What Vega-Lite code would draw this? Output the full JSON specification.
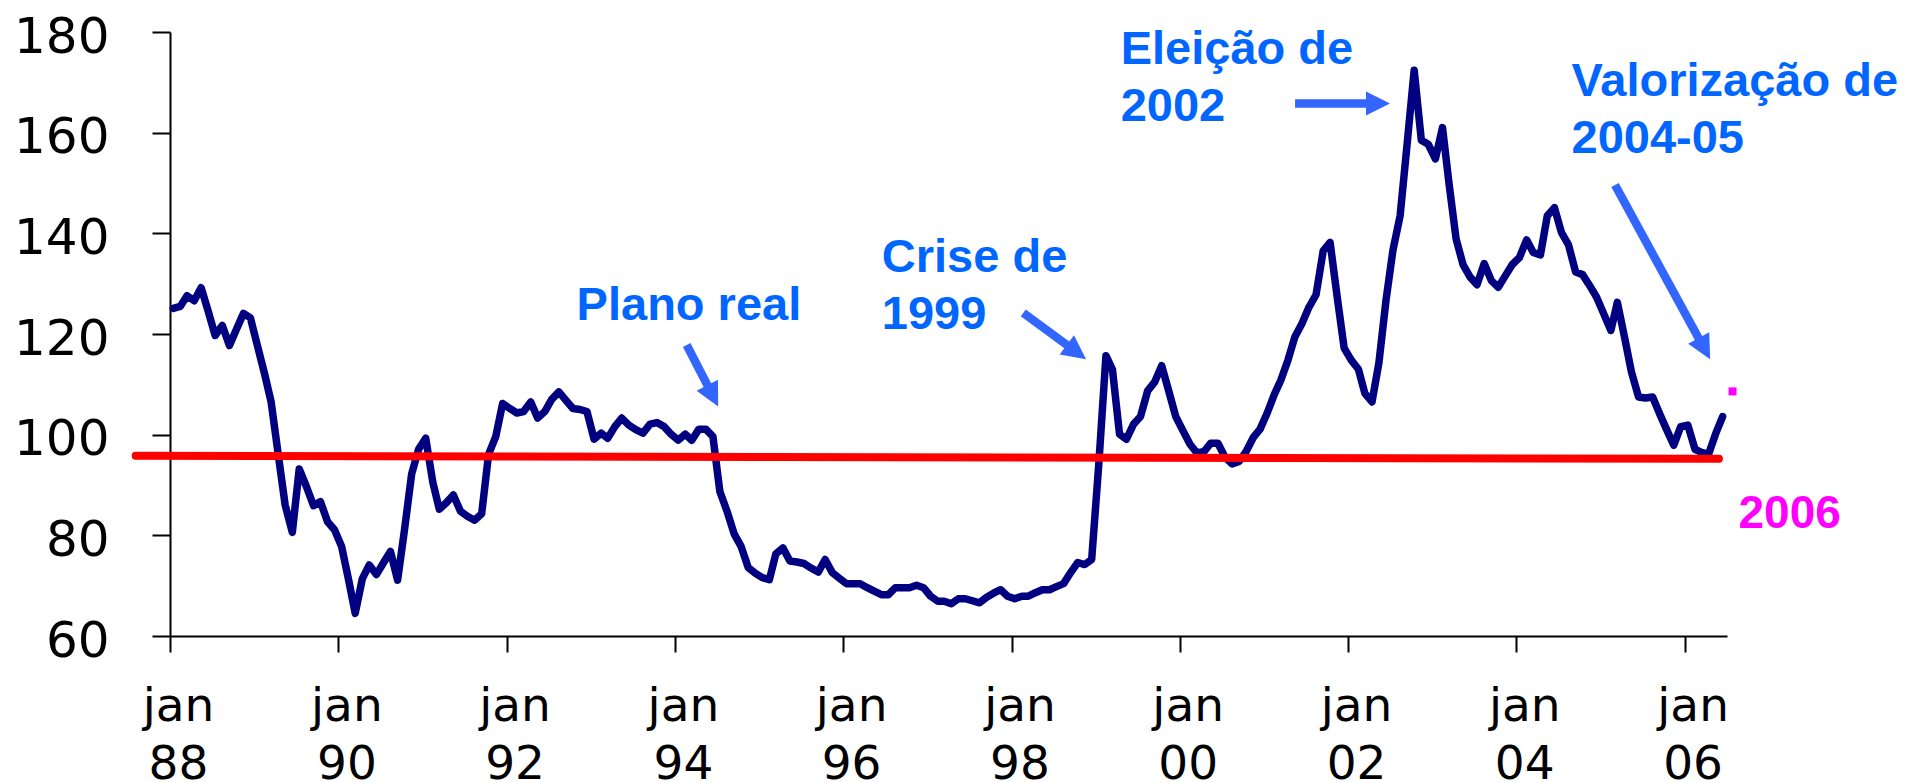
{
  "$schema": "https://vega.github.io/schema/vega-lite/v6.json",
  "width": 1557,
  "height": 604,
  "autosize": "none",
  "padding": {"left": 170, "top": 32, "right": 183, "bottom": 146},
  "background": "white",
  "config": {"view": {"stroke": null}},
  "datasets": {
    "series": [
      {"date":"1988-01-15","rer":125.1},{"date":"1988-02-15","rer":125.5},{"date":"1988-03-15","rer":127.6},{"date":"1988-04-15","rer":126.6},{"date":"1988-05-15","rer":129.2},{"date":"1988-06-15","rer":124.5},{"date":"1988-07-15","rer":119.7},{"date":"1988-08-15","rer":121.7},{"date":"1988-09-15","rer":117.7},{"date":"1988-10-15","rer":120.9},{"date":"1988-11-15","rer":124.1},{"date":"1988-12-15","rer":123.2},
      {"date":"1989-01-15","rer":117.6},{"date":"1989-02-15","rer":112.0},{"date":"1989-03-15","rer":106.5},{"date":"1989-04-15","rer":96.0},{"date":"1989-05-15","rer":86.0},{"date":"1989-06-15","rer":80.6},{"date":"1989-07-15","rer":93.2},{"date":"1989-08-15","rer":89.7},{"date":"1989-09-15","rer":85.9},{"date":"1989-10-15","rer":86.7},{"date":"1989-11-15","rer":82.7},{"date":"1989-12-15","rer":81.1},
      {"date":"1990-01-15","rer":77.8},{"date":"1990-02-15","rer":71.0},{"date":"1990-03-15","rer":64.5},{"date":"1990-04-15","rer":71.4},{"date":"1990-05-15","rer":74.1},{"date":"1990-06-15","rer":72.2},{"date":"1990-07-15","rer":74.5},{"date":"1990-08-15","rer":76.8},{"date":"1990-09-15","rer":71.1},{"date":"1990-10-15","rer":81.1},{"date":"1990-11-15","rer":92.2},{"date":"1990-12-15","rer":97.1},
      {"date":"1991-01-15","rer":99.3},{"date":"1991-02-15","rer":90.5},{"date":"1991-03-15","rer":85.2},{"date":"1991-04-15","rer":86.5},{"date":"1991-05-15","rer":88.0},{"date":"1991-06-15","rer":84.8},{"date":"1991-07-15","rer":83.8},{"date":"1991-08-15","rer":83.0},{"date":"1991-09-15","rer":84.3},{"date":"1991-10-15","rer":96.1},{"date":"1991-11-15","rer":99.6},{"date":"1991-12-15","rer":106.2},
      {"date":"1992-01-15","rer":105.2},{"date":"1992-02-15","rer":104.3},{"date":"1992-03-15","rer":104.6},{"date":"1992-04-15","rer":106.5},{"date":"1992-05-15","rer":103.3},{"date":"1992-06-15","rer":104.6},{"date":"1992-07-15","rer":107.0},{"date":"1992-08-15","rer":108.5},{"date":"1992-09-15","rer":106.8},{"date":"1992-10-15","rer":105.2},{"date":"1992-11-15","rer":105.0},{"date":"1992-12-15","rer":104.6},
      {"date":"1993-01-15","rer":99.1},{"date":"1993-02-15","rer":100.3},{"date":"1993-03-15","rer":99.3},{"date":"1993-04-15","rer":101.6},{"date":"1993-05-15","rer":103.3},{"date":"1993-06-15","rer":101.9},{"date":"1993-07-15","rer":101.0},{"date":"1993-08-15","rer":100.3},{"date":"1993-09-15","rer":102.1},{"date":"1993-10-15","rer":102.4},{"date":"1993-11-15","rer":101.6},{"date":"1993-12-15","rer":100.1},
      {"date":"1994-01-15","rer":98.9},{"date":"1994-02-15","rer":100.1},{"date":"1994-03-15","rer":98.9},{"date":"1994-04-15","rer":101.1},{"date":"1994-05-15","rer":101.1},{"date":"1994-06-15","rer":99.6},{"date":"1994-07-15","rer":88.7},{"date":"1994-08-15","rer":84.8},{"date":"1994-09-15","rer":80.3},{"date":"1994-10-15","rer":77.8},{"date":"1994-11-15","rer":73.6},{"date":"1994-12-15","rer":72.5},
      {"date":"1995-01-15","rer":71.6},{"date":"1995-02-15","rer":71.2},{"date":"1995-03-15","rer":76.3},{"date":"1995-04-15","rer":77.5},{"date":"1995-05-15","rer":74.9},{"date":"1995-06-15","rer":74.7},{"date":"1995-07-15","rer":74.4},{"date":"1995-08-15","rer":73.5},{"date":"1995-09-15","rer":72.7},{"date":"1995-10-15","rer":75.2},{"date":"1995-11-15","rer":72.6},{"date":"1995-12-15","rer":71.5},
      {"date":"1996-01-15","rer":70.4},{"date":"1996-02-15","rer":70.4},{"date":"1996-03-15","rer":70.4},{"date":"1996-04-15","rer":69.6},{"date":"1996-05-15","rer":68.9},{"date":"1996-06-15","rer":68.2},{"date":"1996-07-15","rer":68.2},{"date":"1996-08-15","rer":69.6},{"date":"1996-09-15","rer":69.6},{"date":"1996-10-15","rer":69.6},{"date":"1996-11-15","rer":70.1},{"date":"1996-12-15","rer":69.6},
      {"date":"1997-01-15","rer":67.9},{"date":"1997-02-15","rer":66.9},{"date":"1997-03-15","rer":66.9},{"date":"1997-04-15","rer":66.4},{"date":"1997-05-15","rer":67.4},{"date":"1997-06-15","rer":67.4},{"date":"1997-07-15","rer":67.0},{"date":"1997-08-15","rer":66.6},{"date":"1997-09-15","rer":67.7},{"date":"1997-10-15","rer":68.5},{"date":"1997-11-15","rer":69.2},{"date":"1997-12-15","rer":67.9},
      {"date":"1998-01-15","rer":67.4},{"date":"1998-02-15","rer":67.9},{"date":"1998-03-15","rer":67.9},{"date":"1998-04-15","rer":68.6},{"date":"1998-05-15","rer":69.2},{"date":"1998-06-15","rer":69.2},{"date":"1998-07-15","rer":69.8},{"date":"1998-08-15","rer":70.4},{"date":"1998-09-15","rer":72.6},{"date":"1998-10-15","rer":74.6},{"date":"1998-11-15","rer":74.2},{"date":"1998-12-15","rer":75.2},
      {"date":"1999-01-15","rer":94.2},{"date":"1999-02-15","rer":115.7},{"date":"1999-03-15","rer":113.0},{"date":"1999-04-15","rer":100.1},{"date":"1999-05-15","rer":99.1},{"date":"1999-06-15","rer":102.1},{"date":"1999-07-15","rer":103.6},{"date":"1999-08-15","rer":108.7},{"date":"1999-09-15","rer":110.5},{"date":"1999-10-15","rer":113.7},{"date":"1999-11-15","rer":108.6},{"date":"1999-12-15","rer":103.6},
      {"date":"2000-01-15","rer":100.8},{"date":"2000-02-15","rer":98.1},{"date":"2000-03-15","rer":96.4},{"date":"2000-04-15","rer":96.6},{"date":"2000-05-15","rer":98.3},{"date":"2000-06-15","rer":98.3},{"date":"2000-07-15","rer":95.6},{"date":"2000-08-15","rer":94.2},{"date":"2000-09-15","rer":94.7},{"date":"2000-10-15","rer":96.6},{"date":"2000-11-15","rer":99.4},{"date":"2000-12-15","rer":101.1},
      {"date":"2001-01-15","rer":104.3},{"date":"2001-02-15","rer":108.0},{"date":"2001-03-15","rer":110.8},{"date":"2001-04-15","rer":114.8},{"date":"2001-05-15","rer":119.4},{"date":"2001-06-15","rer":122.1},{"date":"2001-07-15","rer":125.3},{"date":"2001-08-15","rer":127.8},{"date":"2001-09-15","rer":136.5},{"date":"2001-10-15","rer":138.2},{"date":"2001-11-15","rer":127.3},{"date":"2001-12-15","rer":117.2},
      {"date":"2002-01-15","rer":114.8},{"date":"2002-02-15","rer":113.0},{"date":"2002-03-15","rer":108.2},{"date":"2002-04-15","rer":106.5},{"date":"2002-05-15","rer":114.3},{"date":"2002-06-15","rer":126.8},{"date":"2002-07-15","rer":136.7},{"date":"2002-08-15","rer":143.5},{"date":"2002-09-15","rer":158.0},{"date":"2002-10-15","rer":172.4},{"date":"2002-11-15","rer":158.5},{"date":"2002-12-15","rer":157.7},
      {"date":"2003-01-15","rer":154.8},{"date":"2003-02-15","rer":161.0},{"date":"2003-03-15","rer":150.0},{"date":"2003-04-15","rer":138.9},{"date":"2003-05-15","rer":133.8},{"date":"2003-06-15","rer":131.3},{"date":"2003-07-15","rer":129.8},{"date":"2003-08-15","rer":134.0},{"date":"2003-09-15","rer":130.6},{"date":"2003-10-15","rer":129.3},{"date":"2003-11-15","rer":131.6},{"date":"2003-12-15","rer":133.8},
      {"date":"2004-01-15","rer":135.2},{"date":"2004-02-15","rer":138.7},{"date":"2004-03-15","rer":136.2},{"date":"2004-04-15","rer":135.7},{"date":"2004-05-15","rer":143.5},{"date":"2004-06-15","rer":145.1},{"date":"2004-07-15","rer":140.2},{"date":"2004-08-15","rer":137.7},{"date":"2004-09-15","rer":132.3},{"date":"2004-10-15","rer":131.8},{"date":"2004-11-15","rer":129.6},{"date":"2004-12-15","rer":127.3},
      {"date":"2005-01-15","rer":124.0},{"date":"2005-02-15","rer":120.7},{"date":"2005-03-15","rer":126.3},{"date":"2005-04-15","rer":119.4},{"date":"2005-05-15","rer":112.5},{"date":"2005-06-15","rer":107.5},{"date":"2005-07-15","rer":107.3},{"date":"2005-08-15","rer":107.5},{"date":"2005-09-15","rer":104.1},{"date":"2005-10-15","rer":101.0},{"date":"2005-11-15","rer":97.9},{"date":"2005-12-15","rer":101.6},
      {"date":"2006-01-15","rer":101.9},{"date":"2006-02-15","rer":97.1},{"date":"2006-03-15","rer":96.5},{"date":"2006-04-15","rer":96.1},{"date":"2006-05-15","rer":100.1},{"date":"2006-06-15","rer":103.6}
    ],
    "average": [
      {"date":"1987-08-05","avg":95.8},
      {"date":"2006-05-30","avg":95.2}
    ],
    "arrows": [
      {"name":"plano","x1":"1994-02-21","y1":117.8,"x2":"1994-06-07","y2":108.4,"hx":"1994-06-14","hy":107.7},
      {"name":"crise","x1":"1998-02-21","y1":124.2,"x2":"1998-09-26","y2":116.9,"hx":"1998-10-10","hy":116.4},
      {"name":"eleicao","x1":"2001-05-16","y1":165.8,"x2":"2002-04-24","y2":165.8,"hx":"2002-05-11","hy":165.8},
      {"name":"valoriz","x1":"2005-03-05","y1":149.6,"x2":"2006-03-19","y2":117.8,"hx":"2006-03-28","hy":117.1}
    ],
    "notes": [
      {"label":"Plano real","date":"1992-10-31","value":122.8},
      {"label":"Crise de\n1999","date":"1996-06-17","value":132.3},
      {"label":"Eleição de\n2002","date":"1999-04-20","value":173.6},
      {"label":"Valorização de\n2004-05","date":"2004-08-28","value":167.3}
    ],
    "latest": [
      {"label":"2006","date":"2006-08-23","value":81.5,"pdate":"2006-07-28","pvalue":108.6}
    ]
  },
  "layer": [
    {
      "data": {"name": "series"},
      "mark": {"type": "line", "color": "#000080", "strokeWidth": 7.5, "strokeJoin": "round", "strokeCap": "round"},
      "encoding": {
        "x": {
          "field": "date", "type": "temporal",
          "scale": {"type": "utc", "domain": [{"year": 1988, "month": 1, "date": 1, "utc": true}, {"year": 2006, "month": 7, "date": 4, "utc": true}]},
          "axis": {
            "values": [
              {"year": 1988, "month": 1, "date": 1, "utc": true},
              {"year": 1990, "month": 1, "date": 1, "utc": true},
              {"year": 1992, "month": 1, "date": 1, "utc": true},
              {"year": 1994, "month": 1, "date": 1, "utc": true},
              {"year": 1996, "month": 1, "date": 1, "utc": true},
              {"year": 1998, "month": 1, "date": 1, "utc": true},
              {"year": 2000, "month": 1, "date": 1, "utc": true},
              {"year": 2002, "month": 1, "date": 1, "utc": true},
              {"year": 2004, "month": 1, "date": 1, "utc": true},
              {"year": 2006, "month": 1, "date": 1, "utc": true}
            ],
            "labelExpr": "['jan', utcFormat(datum.value, '%y')]",
            "title": null, "grid": false,
            "labelFont": "DejaVu Sans", "labelFontSize": 47, "labelColor": "#000000",
            "labelBaseline": "top", "labelLineHeight": 58, "labelPadding": 31, "labelOffset": 8,
            "labelAlign": "center", "labelAngle": 0, "labelFlush": false, "labelOverlap": false, "labelBound": false,
            "tickSize": 16, "tickWidth": 2, "tickColor": "#000000",
            "domainColor": "#000000", "domainWidth": 2
          }
        },
        "y": {
          "field": "rer", "type": "quantitative",
          "scale": {"domain": [60, 180], "nice": false, "zero": false},
          "axis": {
            "values": [60, 80, 100, 120, 140, 160, 180],
            "title": null, "grid": false,
            "labelFont": "DejaVu Sans", "labelFontSize": 50, "labelColor": "#000000",
            "labelPadding": 43, "labelOffset": 5, "labelFlush": false, "labelOverlap": false, "labelBound": false,
            "tickSize": 18, "tickWidth": 2, "tickColor": "#000000",
            "domainColor": "#000000", "domainWidth": 2
          }
        }
      }
    },
    {
      "data": {"name": "average"},
      "mark": {"type": "line", "color": "#FF0000", "strokeWidth": 8, "strokeCap": "round"},
      "encoding": {
        "x": {"field": "date", "type": "temporal", "axis": {"title": null}},
        "y": {"field": "avg", "type": "quantitative", "axis": {"title": null}}
      }
    },
    {
      "data": {"name": "arrows"},
      "mark": {"type": "rule", "color": "#3366FF", "strokeWidth": 8.5, "strokeCap": "butt"},
      "encoding": {
        "x": {"field": "x1", "type": "temporal", "axis": {"title": null}},
        "x2": {"field": "x2"},
        "y": {"field": "y1", "type": "quantitative", "axis": {"title": null}},
        "y2": {"field": "y2"}
      }
    },
    {
      "data": {"name": "arrows"},
      "transform": [{"filter": "datum.name == 'plano'"}],
      "mark": {"type": "point", "shape": "M0,-1L1,1L-1,1Z", "filled": true, "size": 576, "color": "#3366FF", "opacity": 1, "strokeWidth": 0, "angle": 152.9},
      "encoding": {
        "x": {"field": "hx", "type": "temporal", "axis": {"title": null}},
        "y": {"field": "hy", "type": "quantitative", "axis": {"title": null}}
      }
    },
    {
      "data": {"name": "arrows"},
      "transform": [{"filter": "datum.name == 'crise'"}],
      "mark": {"type": "point", "shape": "M0,-1L1,1L-1,1Z", "filled": true, "size": 576, "color": "#3366FF", "opacity": 1, "strokeWidth": 0, "angle": 126.6},
      "encoding": {
        "x": {"field": "hx", "type": "temporal", "axis": {"title": null}},
        "y": {"field": "hy", "type": "quantitative", "axis": {"title": null}}
      }
    },
    {
      "data": {"name": "arrows"},
      "transform": [{"filter": "datum.name == 'eleicao'"}],
      "mark": {"type": "point", "shape": "M0,-1L1,1L-1,1Z", "filled": true, "size": 576, "color": "#3366FF", "opacity": 1, "strokeWidth": 0, "angle": 90},
      "encoding": {
        "x": {"field": "hx", "type": "temporal", "axis": {"title": null}},
        "y": {"field": "hy", "type": "quantitative", "axis": {"title": null}}
      }
    },
    {
      "data": {"name": "arrows"},
      "transform": [{"filter": "datum.name == 'valoriz'"}],
      "mark": {"type": "point", "shape": "M0,-1L1,1L-1,1Z", "filled": true, "size": 576, "color": "#3366FF", "opacity": 1, "strokeWidth": 0, "angle": 151.4},
      "encoding": {
        "x": {"field": "hx", "type": "temporal", "axis": {"title": null}},
        "y": {"field": "hy", "type": "quantitative", "axis": {"title": null}}
      }
    },
    {
      "data": {"name": "notes"},
      "mark": {"type": "text", "align": "left", "baseline": "alphabetic", "lineBreak": "\n", "lineHeight": 57, "font": "Liberation Sans", "fontWeight": "bold", "fontSize": 47, "color": "#0066FF"},
      "encoding": {
        "x": {"field": "date", "type": "temporal", "axis": {"title": null}},
        "y": {"field": "value", "type": "quantitative", "axis": {"title": null}},
        "text": {"field": "label"}
      }
    },
    {
      "data": {"name": "latest"},
      "mark": {"type": "text", "align": "left", "baseline": "alphabetic", "font": "Liberation Sans", "fontWeight": "bold", "fontSize": 46, "color": "#FF00FF"},
      "encoding": {
        "x": {"field": "date", "type": "temporal", "axis": {"title": null}},
        "y": {"field": "value", "type": "quantitative", "axis": {"title": null}},
        "text": {"field": "label"}
      }
    },
    {
      "data": {"name": "latest"},
      "mark": {"type": "point", "shape": "square", "filled": true, "size": 64, "color": "#FF00FF", "opacity": 1, "strokeWidth": 0},
      "encoding": {
        "x": {"field": "pdate", "type": "temporal", "axis": {"title": null}},
        "y": {"field": "pvalue", "type": "quantitative", "axis": {"title": null}}
      }
    }
  ]
}
